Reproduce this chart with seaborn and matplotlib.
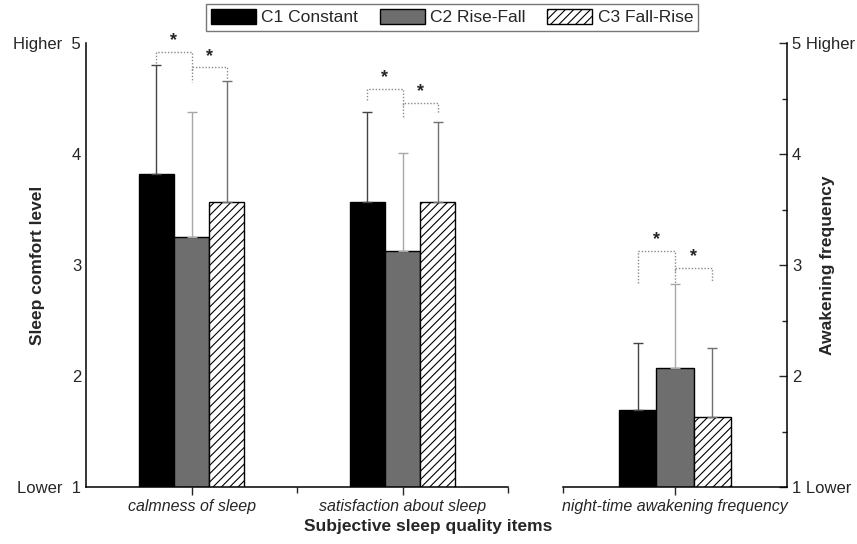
import numpy as np
import pandas as pd
import matplotlib
matplotlib.use("Agg")
import matplotlib.pyplot as plt
from matplotlib.patches import Patch
from matplotlib.container import BarContainer
from matplotlib.ticker import FixedLocator
import seaborn as sns

# ---- data -------------------------------------------------------------
comfort_items = ["calmness of sleep", "satisfaction about sleep"]
awakening_items = ["night-time awakening frequency"]
conditions = ["C1 Constant", "C2 Rise-Fall", "C3 Fall-Rise"]

# mean scores per condition (comfort items, then awakening item)
c1_mean = [3.82, 3.57, 1.69]
c2_mean = [3.25, 3.13, 2.07]
c3_mean = [3.57, 3.57, 1.63]
# standard deviations (drawn as upper error bars)
c1_sd = [0.98, 0.81, 0.61]
c2_sd = [1.13, 0.88, 0.76]
c3_sd = [1.09, 0.72, 0.62]

# significance brackets: (item, top level, drop of left leg, drop of right leg) for C1-C2 and C2-C3
sig_c1_c2 = [("calmness of sleep", 4.92, 0.10, 0.27),
             ("satisfaction about sleep", 4.59, 0.10, 0.26),
             ("night-time awakening frequency", 3.13, 0.29, 0.29)]
sig_c2_c3 = [("calmness of sleep", 4.78, 0.10),
             ("satisfaction about sleep", 4.46, 0.09),
             ("night-time awakening frequency", 2.97, 0.12)]

# ---- styling ----------------------------------------------------------
sns.set_style("white")
plt.rcParams["font.family"] = ["Liberation Sans", "DejaVu Sans"]
plt.rcParams["hatch.linewidth"] = 0.8

bar_colors = ["#000000", "#6e6e6e", "#ffffff"]
err_colors = ["#444444", "#a8a8a8", "#707070"]
HATCH = "////"

items = comfort_items + awakening_items
means = [c1_mean, c2_mean, c3_mean]
sds = [c1_sd, c2_sd, c3_sd]
df = pd.DataFrame({
    "item": np.repeat(items, len(conditions)),
    "condition": conditions * len(items),
    "mean": [means[c][i] for i in range(len(items)) for c in range(len(conditions))],
    "sd": [sds[c][i] for i in range(len(items)) for c in range(len(conditions))],
})

fig = plt.figure(figsize=(8.57, 5.44), dpi=100)
ax_l = fig.add_axes([86 / 857, 57 / 544, 422 / 857, 444 / 544])
ax_r = fig.add_axes([563 / 857, 57 / 544, 224 / 857, 444 / 544])

centers = {}


def draw_panel(ax, sub):
    sns.barplot(data=sub, x="item", y="mean", hue="condition", hue_order=conditions,
                palette=bar_colors, width=0.5, errorbar=None, edgecolor="black",
                linewidth=1.0, ax=ax, legend=False, saturation=1)
    bar_sets = [c for c in ax.containers if isinstance(c, BarContainer)]
    for ci, cont in enumerate(bar_sets):
        for item, bar in zip(sub["item"].unique(), cont.patches):
            if ci == 2:
                bar.set_hatch(HATCH)
            x = bar.get_x() + bar.get_width() / 2
            y = bar.get_height()
            sd = sub[(sub["item"] == item) & (sub["condition"] == conditions[ci])]["sd"].iloc[0]
            ax.errorbar(x, y, yerr=[[0], [sd]], fmt="none", ecolor=err_colors[ci],
                        elinewidth=1.0, capsize=3.5, capthick=1.0, zorder=1)
            centers[(item, ci)] = (ax, x)
    ax.set_ylim(1, 5)
    ax.set_xlabel("")
    ax.set_ylabel("")
    ax.yaxis.set_minor_locator(FixedLocator(np.arange(1.5, 5, 1.0)))
    ax.tick_params(axis="x", which="major", direction="out", length=6, width=1,
                   labelsize=11.5, pad=3, bottom=True)
    ax.tick_params(axis="x", which="minor", direction="out", length=4, width=1, bottom=True)
    ax.tick_params(axis="y", which="major", direction="in", length=6, width=1, labelsize=12)
    ax.tick_params(axis="y", which="minor", direction="in", length=3.5, width=1)
    for lab in ax.get_xticklabels():
        lab.set_fontstyle("italic")
    for s in ax.spines.values():
        s.set_linewidth(1.1)
        s.set_color("black")
    ax.set_facecolor("none")


draw_panel(ax_l, df[df["item"].isin(comfort_items)])
draw_panel(ax_r, df[df["item"].isin(awakening_items)])

ax_l.set_xlim(-0.5, 1.5)
ax_l.xaxis.set_minor_locator(FixedLocator([0.5, 1.5]))
ax_l.spines["top"].set_visible(False)
ax_l.spines["right"].set_visible(False)
ax_l.set_yticks([1, 2, 3, 4, 5])
ax_l.set_yticklabels(["Lower  1", "2", "3", "4", "Higher  5"])
ax_l.set_ylabel("Sleep comfort level", fontsize=12.5, fontweight="bold")
ax_l.yaxis.set_label_coords((45 - 86) / 422, 0.5)

ax_r.set_xlim(-0.5, 0.5)
ax_r.xaxis.set_minor_locator(FixedLocator([-0.5]))
ax_r.spines["top"].set_visible(False)
ax_r.spines["left"].set_visible(False)
ax_r.yaxis.tick_right()
ax_r.yaxis.set_label_position("right")
ax_r.set_yticks([1, 2, 3, 4, 5])
ax_r.set_yticklabels(["1 Lower", "2", "3", "4", "5 Higher"])
ax_r.tick_params(axis="y", which="both", left=False, right=True, labelsize=12)
ax_r.set_ylabel("Awakening frequency", fontsize=12.5, fontweight="bold", rotation=90)
ax_r.yaxis.set_label_coords((820 - 563) / 224, 0.5)

# significance brackets
dot = dict(color="#8a8a8a", lw=1.0, ls=(0, (1, 1.3)))
for item, top, dl, dr in sig_c1_c2:
    ax, x0 = centers[(item, 0)]
    _, x1 = centers[(item, 1)]
    ax.plot([x0, x0, x1, x1], [top - dl, top, top, top - dr], **dot, clip_on=False)
    ax.annotate("*", ((x0 + x1) / 2, top), xytext=(0, 2), textcoords="offset points",
                ha="center", va="bottom", fontsize=13, fontweight="bold")
for item, top, dr in sig_c2_c3:
    ax, x1 = centers[(item, 1)]
    _, x2 = centers[(item, 2)]
    ax.plot([x1, x1, x2, x2], [top - 0.02, top, top, top - dr], **dot, clip_on=False)
    ax.annotate("*", ((x1 + x2) / 2, top), xytext=(0, 2), textcoords="offset points",
                ha="center", va="bottom", fontsize=13, fontweight="bold")

fig.text(428 / 857, 1 - 526 / 544, "Subjective sleep quality items", ha="center", va="center",
         fontsize=12.5, fontweight="bold")

handles = [Patch(facecolor=bar_colors[i], edgecolor="black", hatch=HATCH if i == 2 else None,
                 linewidth=1.0, label=conditions[i]) for i in range(3)]
leg = fig.legend(handles=handles, loc="upper center", bbox_to_anchor=(452 / 857, 1 - 4 / 544),
                 ncol=3, frameon=True, fancybox=False, fontsize=12.5, handlelength=2.6,
                 handleheight=0.9, handletextpad=0.3, columnspacing=1.25, borderpad=0.3,
                 borderaxespad=0)
leg.get_frame().set_edgecolor("#555555")
leg.get_frame().set_linewidth(1.0)

fig.savefig("out.png", dpi=100, facecolor="white")
